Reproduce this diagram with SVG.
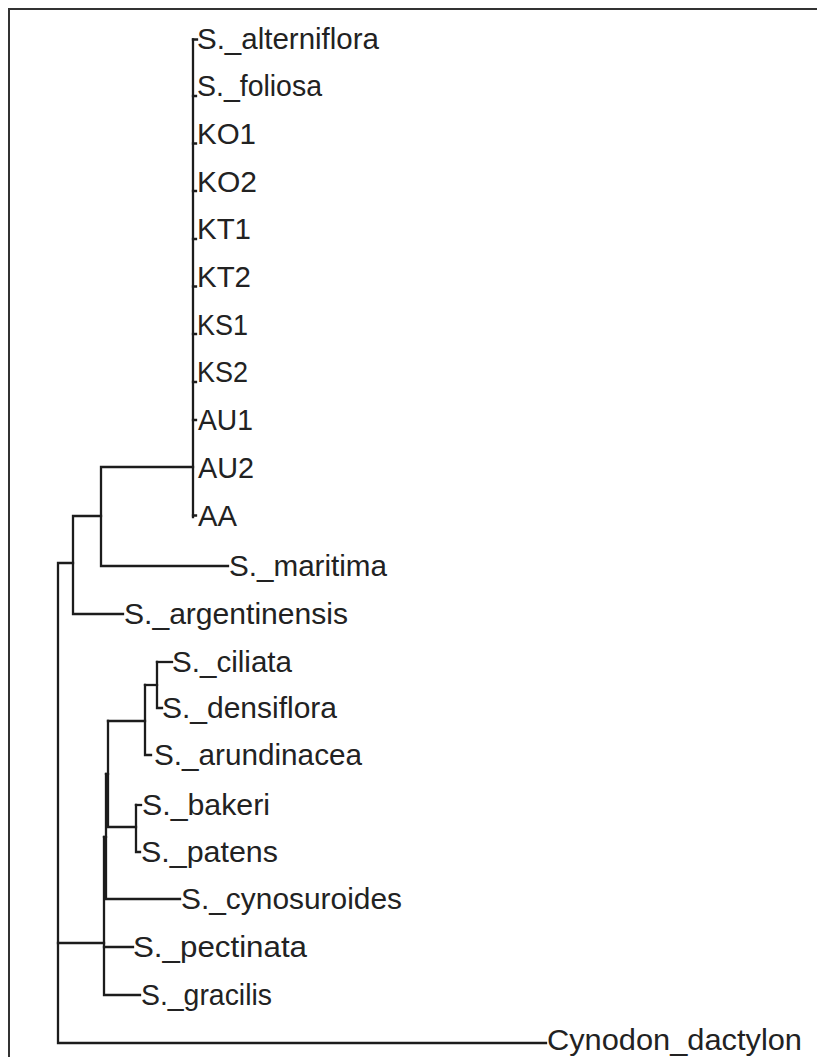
<svg xmlns="http://www.w3.org/2000/svg" width="817" height="1057" viewBox="0 0 817 1057">
  <style>
    .frame { fill: none; stroke: #333; stroke-width: 2; }
    .branch { fill: none; stroke: #1c1c1c; stroke-width: 2.3; stroke-linecap: square; stroke-linejoin: miter; }
    .taxon { font-family: "Liberation Sans", Arial, sans-serif; font-size: 29px; fill: #222; }
  </style>
  <rect width="817" height="1057" fill="#fff"/>
  <!-- panel border (top and left edges) -->
  <path class="frame" d="M9,1057 V9 H817"/>

  <!-- tree branches -->
  <g id="connectors" class="branch">
    <!-- unresolved S. alterniflora clade -->
    <path d="M193,39.5 V517"/>
    <path d="M193,39.5 H197 M193,96 H196 M193,143.5 H196 M193,191 H196 M193,239 H196 M193,286.5 H196 M193,334 H196 M193,382 H196 M193,420 H196 M193,515.5 H196"/>
    <!-- clade + S. maritima -->
    <path d="M193,467 H101 V566 H228"/>
    <!-- + S. argentinensis -->
    <path d="M101,516 H73 V614 H123"/>
    <!-- root, Cynodon outgroup -->
    <path d="M73,563 H58 V1043 H546"/>
    <!-- lower clade -->
    <path d="M58,943 H104"/>
    <path d="M104,837 V995 H140"/>
    <path d="M104,947 H133"/>
    <path d="M104,837 H106"/>
    <path d="M106,774 V899 H180"/>
    <path d="M106,774 H108"/>
    <path d="M108,721 V827 H136"/>
    <path d="M136,805 V852 H140"/>
    <path d="M136,805 H141"/>
    <path d="M108,721 H145"/>
    <path d="M145,685 V755 H151"/>
    <path d="M145,685 H157"/>
    <path d="M157,662 V708 H162"/>
    <path d="M157,662 H172"/>
  </g>

  <!-- leaf labels -->
  <g id="n_alterniflora"><text class="taxon" x="197" y="48.5" textLength="182" lengthAdjust="spacingAndGlyphs">S._alterniflora</text></g>
  <g id="n_foliosa"><text class="taxon" x="197" y="96.2" textLength="125" lengthAdjust="spacingAndGlyphs">S._foliosa</text></g>
  <g id="n_KO1"><text class="taxon" x="197" y="143.9" textLength="59" lengthAdjust="spacingAndGlyphs">KO1</text></g>
  <g id="n_KO2"><text class="taxon" x="197" y="191.6" textLength="60" lengthAdjust="spacingAndGlyphs">KO2</text></g>
  <g id="n_KT1"><text class="taxon" x="197" y="239.3" textLength="54" lengthAdjust="spacingAndGlyphs">KT1</text></g>
  <g id="n_KT2"><text class="taxon" x="197" y="287" textLength="54" lengthAdjust="spacingAndGlyphs">KT2</text></g>
  <g id="n_KS1"><text class="taxon" x="197" y="334.7" textLength="51" lengthAdjust="spacingAndGlyphs">KS1</text></g>
  <g id="n_KS2"><text class="taxon" x="197" y="382.4" textLength="51" lengthAdjust="spacingAndGlyphs">KS2</text></g>
  <g id="n_AU1"><text class="taxon" x="198" y="430" textLength="55" lengthAdjust="spacingAndGlyphs">AU1</text></g>
  <g id="n_AU2"><text class="taxon" x="198" y="477.8" textLength="56" lengthAdjust="spacingAndGlyphs">AU2</text></g>
  <g id="n_AA"><text class="taxon" x="198" y="525.5" textLength="39" lengthAdjust="spacingAndGlyphs">AA</text></g>
  <g id="n_maritima"><text class="taxon" x="229" y="576" textLength="158" lengthAdjust="spacingAndGlyphs">S._maritima</text></g>
  <g id="n_argentinensis"><text class="taxon" x="124" y="624" textLength="224" lengthAdjust="spacingAndGlyphs">S._argentinensis</text></g>
  <g id="n_ciliata"><text class="taxon" x="172" y="672" textLength="120" lengthAdjust="spacingAndGlyphs">S._ciliata</text></g>
  <g id="n_densiflora"><text class="taxon" x="162" y="718" textLength="175" lengthAdjust="spacingAndGlyphs">S._densiflora</text></g>
  <g id="n_arundinacea"><text class="taxon" x="154" y="765" textLength="208" lengthAdjust="spacingAndGlyphs">S._arundinacea</text></g>
  <g id="n_bakeri"><text class="taxon" x="142" y="815" textLength="128" lengthAdjust="spacingAndGlyphs">S._bakeri</text></g>
  <g id="n_patens"><text class="taxon" x="141" y="862" textLength="137" lengthAdjust="spacingAndGlyphs">S._patens</text></g>
  <g id="n_cynosuroides"><text class="taxon" x="181" y="909" textLength="221" lengthAdjust="spacingAndGlyphs">S._cynosuroides</text></g>
  <g id="n_pectinata"><text class="taxon" x="133" y="957" textLength="174" lengthAdjust="spacingAndGlyphs">S._pectinata</text></g>
  <g id="n_gracilis"><text class="taxon" x="141" y="1005" textLength="131" lengthAdjust="spacingAndGlyphs">S._gracilis</text></g>
  <g id="n_Cynodon"><text class="taxon" x="547" y="1050" textLength="255" lengthAdjust="spacingAndGlyphs">Cynodon_dactylon</text></g>
</svg>
